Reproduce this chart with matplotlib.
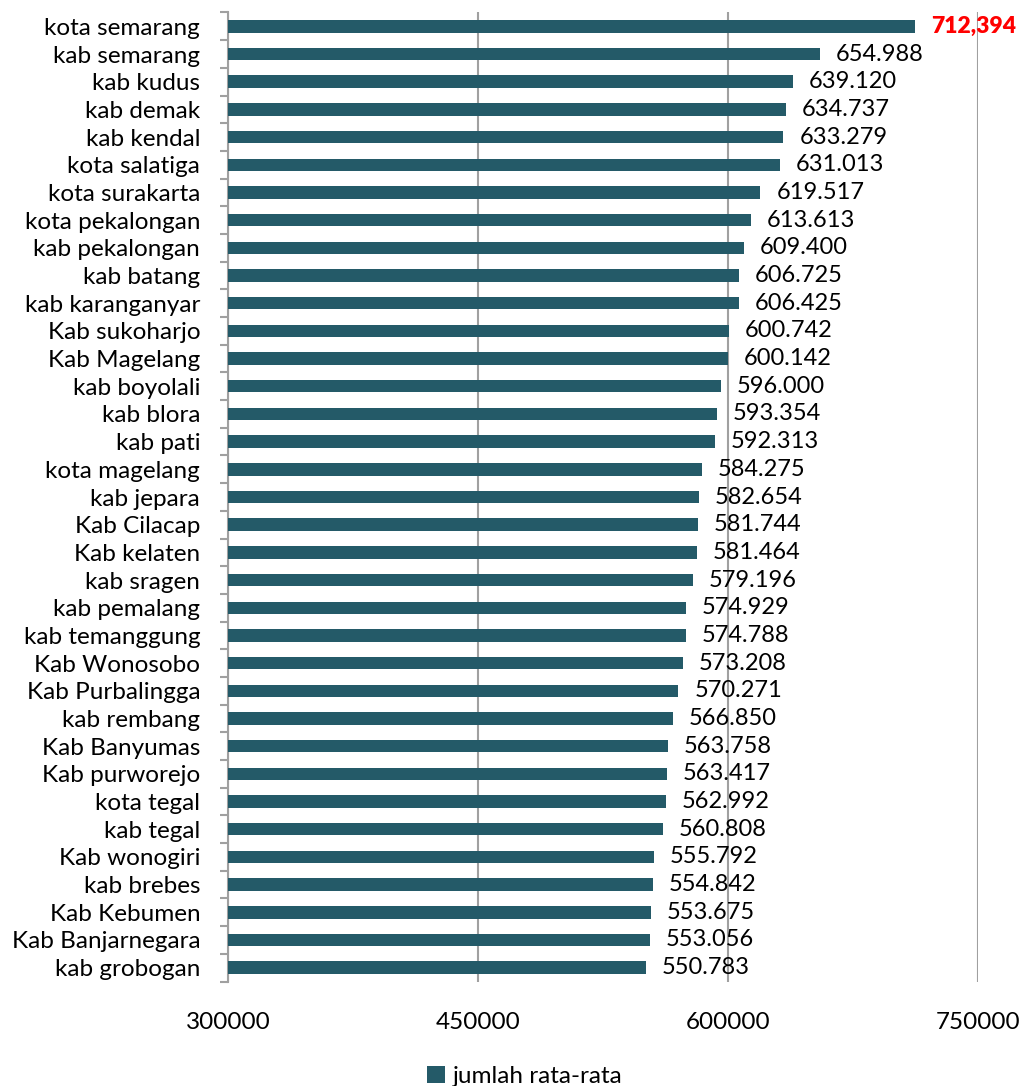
import numpy as np
import matplotlib.pyplot as plt

plt.rcParams['font.family'] = ['Lato', 'DejaVu Sans']

regions = ["kota semarang", "kab semarang", "kab kudus", "kab demak", "kab kendal",
           "kota salatiga", "kota surakarta", "kota pekalongan", "kab pekalongan",
           "kab batang", "kab karanganyar", "Kab sukoharjo", "Kab Magelang",
           "kab boyolali", "kab blora", "kab pati", "kota magelang", "kab jepara",
           "Kab Cilacap", "Kab kelaten", "kab sragen", "kab pemalang",
           "kab temanggung", "Kab Wonosobo", "Kab Purbalingga", "kab rembang",
           "Kab Banyumas", "Kab purworejo", "kota tegal", "kab tegal",
           "Kab wonogiri", "kab brebes", "Kab Kebumen", "Kab Banjarnegara",
           "kab grobogan"]
values = [712394, 654988, 639120, 634737, 633279, 631013, 619517, 613613, 609400,
          606725, 606425, 600742, 600142, 596000, 593354, 592313, 584275, 582654,
          581744, 581464, 579196, 574929, 574788, 573208, 570271, 566850, 563758,
          563417, 562992, 560808, 555792, 554842, 553675, 553056, 550783]
x_ticks = [300000, 450000, 600000, 750000]

bar_color = '#245A68'
n = len(regions)
y = np.arange(n)[::-1]

fig = plt.figure(figsize=(10.25, 10.86), dpi=100)
ax = fig.add_axes([0.2224, 0.0962, 0.7317, 0.8923])

ax.barh(y, np.array(values) - 300000, left=300000, height=0.45,
        color=bar_color, label='jumlah rata-rata', zorder=3)

for yi, v, i in zip(y, values, range(n)):
    if i == 0:
        ax.text(v + 9500, yi, f"{v:,}", va='center', ha='left', fontsize=16.5,
                color='red', fontweight='heavy', zorder=4)
    else:
        ax.text(v + 9500, yi, f"{v:,}".replace(',', '.'), va='center', ha='left',
                fontsize=17, color='black', zorder=4)

ax.set_xlim(300000, 750000)
ax.set_ylim(-0.5, n - 0.5)
ax.set_xticks(x_ticks)
ax.set_xticklabels([str(t) for t in x_ticks], fontsize=17.5)
ax.tick_params(axis='x', length=0, pad=22)
ax.grid(axis='x', color='#a0a0a0', linewidth=1.5, zorder=0)

ax.set_yticks(y)
ax.set_yticklabels(regions, fontsize=17.5)
ax.tick_params(axis='y', which='major', length=0, pad=20)
ax.set_yticks(np.arange(n + 1) - 0.5, minor=True)
ax.tick_params(axis='y', which='minor', length=6, color='#a0a0a0', width=1.5)

for s in ['top', 'right', 'bottom']:
    ax.spines[s].set_visible(False)
ax.spines['left'].set_color('#a0a0a0')
ax.spines['left'].set_linewidth(1.5)

fig.legend(loc='lower center', bbox_to_anchor=(0.512, -0.021), frameon=False,
           fontsize=17.5, handlelength=0.75, handleheight=0.75, handletextpad=0.3)

fig.savefig('out.png', dpi=100)
